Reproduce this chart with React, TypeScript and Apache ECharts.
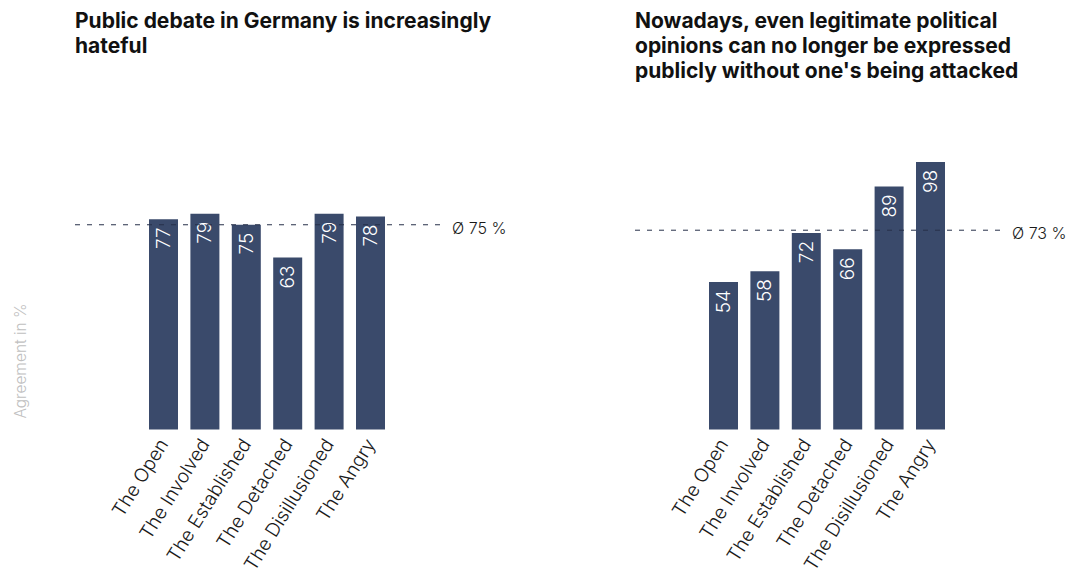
import React, { useEffect, useRef } from "react";
import * as echarts from "echarts";

const categories = ["The Open", "The Involved", "The Established", "The Detached", "The Disillusioned", "The Angry"];
const hatefulValues = [77, 79, 75, 63, 79, 78];
const attackedValues = [54, 58, 72, 66, 89, 98];
const averages = [75, 73];
const averageLabels = ["Ø 75 %", "Ø 73 %"];
const titleTexts = [
  "Public debate in Germany is increasingly\nhateful",
  "Nowadays, even legitimate political\nopinions can no longer be expressed\npublicly without one's being attacked",
];
const yAxisName = "Agreement in %";

const BAR = "#3a4a6b";
const FONT = "Inter, 'Noto Sans', sans-serif";

export default function App() {
  const ref = useRef<HTMLDivElement>(null);
  useEffect(() => {
    if (!ref.current) return;
    const chart = echarts.init(ref.current, null, { renderer: "svg" });
    const grids = [
      { left: 142.8, width: 248.4, top: 156.5, height: 273 },
      { left: 702.8, width: 248.4, top: 156.5, height: 273 },
    ];
    const seriesData = [hatefulValues, attackedValues];
    chart.setOption({
      animation: false,
      backgroundColor: "#ffffff",
      textStyle: { fontFamily: FONT },
      title: titleTexts.map((t, i) => ({
        text: t,
        left: i === 0 ? 75 : 635,
        top: 8,
        padding: 0,
        textStyle: { fontFamily: FONT, fontSize: 21, fontWeight: 700, lineHeight: 25, color: "#111111" },
      })),
      grid: grids,
      xAxis: grids.map((_, i) => ({
        type: "category",
        gridIndex: i,
        data: categories,
        axisLine: { show: false },
        axisTick: { show: false },
        axisLabel: {
          interval: 0,
          rotate: 58,
          margin: 11,
          color: "#1a1a1a",
          fontSize: 19,
          fontWeight: 300,
          fontFamily: FONT,
        },
      })),
      yAxis: grids.map((_, i) => ({
        type: "value",
        gridIndex: i,
        min: 0,
        max: 100,
        show: false,
        splitLine: { show: false },
      })),
      series: seriesData.map((d, i) => ({
        type: "bar",
        xAxisIndex: i,
        yAxisIndex: i,
        data: d,
        barWidth: 29,
        itemStyle: { color: BAR },
        label: {
          show: true,
          position: "insideTop",
          rotate: 90,
          align: "right",
          verticalAlign: "middle",
          distance: 8,
          color: "#ffffff",
          fontSize: 19,
          fontWeight: 300,
          fontFamily: FONT,
        },
      })),
    });

    const lineSpans = [
      [75, 440, 452],
      [635, 1000, 1012],
    ];
    const graphics: any[] = [];
    averages.forEach((avg, i) => {
      const y = chart.convertToPixel({ yAxisIndex: i }, avg) as number;
      const [x1, x2, tx] = lineSpans[i];
      graphics.push({
        type: "line",
        z: 100,
        shape: { x1, y1: y, x2, y2: y },
        style: { stroke: "#27314a", lineWidth: 1, lineDash: [5, 7] },
      });
      graphics.push({
        type: "text",
        z: 100,
        x: tx,
        y: y + 3,
        style: {
          text: averageLabels[i],
          fill: "#1a1a1a",
          fontSize: 16,
          fontWeight: 300,
          fontFamily: FONT,
          verticalAlign: "middle",
          align: "left",
        },
      });
    });
    graphics.push({
      type: "text",
      x: 20,
      y: 361,
      rotation: Math.PI / 2,
      style: {
        text: yAxisName,
        fill: "#c0c0c0",
        fontSize: 15.5,
        fontWeight: 300,
        fontFamily: FONT,
        align: "center",
        verticalAlign: "middle",
      },
    });
    chart.setOption({ graphic: graphics });

    return () => chart.dispose();
  }, []);
  return <div ref={ref} style={{ position: "absolute", left: 0, top: 0, width: 1067, height: 580 }} />;
}
